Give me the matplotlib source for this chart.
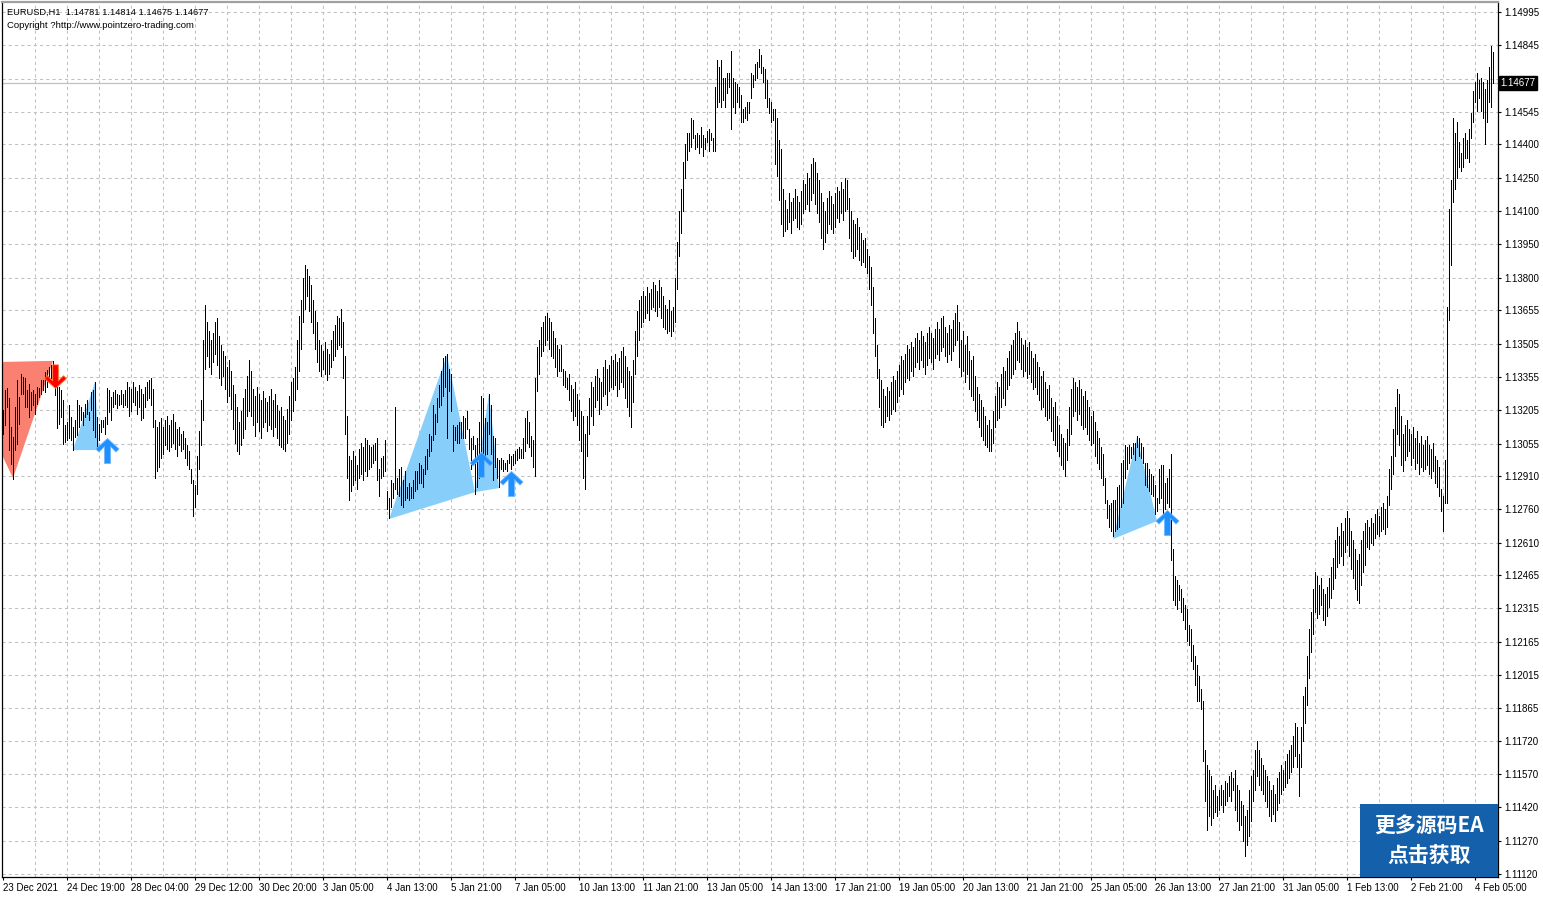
import matplotlib
matplotlib.use("Agg")
import matplotlib.pyplot as plt
import matplotlib.transforms as mtransforms
from matplotlib.collections import LineCollection
from matplotlib.patches import Polygon, Rectangle
from matplotlib.path import Path

symbol_line = "EURUSD,H1  1.14781 1.14814 1.14675 1.14677"
copyright_line = "Copyright ?http://www.pointzero-trading.com"
last_price = 1.14677

price_ticks = [1.14995, 1.14845, 1.14695, 1.14545, 1.14400, 1.14250, 1.14100,
               1.13950, 1.13800, 1.13655, 1.13505, 1.13355, 1.13205, 1.13055,
               1.12910, 1.12760, 1.12610, 1.12465, 1.12315, 1.12165, 1.12015,
               1.11865, 1.11720, 1.11570, 1.11420, 1.11270, 1.11120]
hidden_tick = 1.14695  # covered by the price box

time_labels = ["23 Dec 2021", "24 Dec 19:00", "28 Dec 04:00", "29 Dec 12:00",
               "30 Dec 20:00", "3 Jan 05:00", "4 Jan 13:00", "5 Jan 21:00",
               "7 Jan 05:00", "10 Jan 13:00", "11 Jan 21:00", "13 Jan 05:00",
               "14 Jan 13:00", "17 Jan 21:00", "19 Jan 05:00", "20 Jan 13:00",
               "21 Jan 21:00", "25 Jan 05:00", "26 Jan 13:00", "27 Jan 21:00",
               "31 Jan 05:00", "1 Feb 13:00", "2 Feb 21:00", "4 Feb 05:00"]
time_label_bars = [32 * k for k in range(len(time_labels))]

# H1 bar highs / lows, one line = 8 or 16 bars
bar_highs = [
    1.13205, 1.13295, 1.13303, 1.13258, 1.13130, 1.13085, 1.13220, 1.13340,
    1.13265, 1.13370, 1.13355, 1.13348, 1.13295, 1.13325, 1.13288, 1.13295,
    1.13280, 1.13310, 1.13303, 1.13340, 1.13340, 1.13378, 1.13385, 1.13400,
    1.13408, 1.13427, 1.13348, 1.13325, 1.13310, 1.13295, 1.13250, 1.13138,
    1.13153, 1.13228, 1.13175, 1.13130, 1.13160, 1.13250, 1.13228, 1.13220,
    1.13198, 1.13235, 1.13250, 1.13198, 1.13288, 1.13295, 1.13332, 1.13175,
    1.13145, 1.13160, 1.13160, 1.13175, 1.13303, 1.13295, 1.13265, 1.13288,
    1.13295, 1.13280, 1.13273, 1.13295, 1.13280, 1.13295,
    1.1333, 1.1331, 1.1330, 1.1333, 1.1331, 1.1329, 1.1332, 1.1330, 1.1328, 1.1331, 1.1333, 1.1334, 1.1335, 1.1330, 1.1316, 1.1313,
    1.1315, 1.1317, 1.1313, 1.1316, 1.1318, 1.1314, 1.1316, 1.1319, 1.1315, 1.1312, 1.1313, 1.1310, 1.1311, 1.1308, 1.1305, 1.1302,
    1.1294, 1.1289, 1.1287, 1.1300, 1.1311, 1.1325, 1.1352, 1.1368,
    1.1360, 1.1356, 1.1352, 1.1355, 1.1360, 1.1362, 1.1354, 1.1350, 1.1347, 1.1345, 1.1340, 1.1343, 1.1338, 1.1332, 1.1328, 1.1322,
    1.1315, 1.1320, 1.1326, 1.1330, 1.1336, 1.1343, 1.1338, 1.1330, 1.1327, 1.1331, 1.1328, 1.1325, 1.1329, 1.1326, 1.1324, 1.1327,
    1.1330, 1.1325, 1.1328, 1.1323, 1.1320, 1.1322, 1.1318, 1.1316, 1.1321, 1.1327, 1.1333, 1.1335, 1.1340, 1.1352, 1.1363, 1.1370,
    1.1380, 1.1386, 1.1384, 1.1381, 1.1377, 1.1370, 1.1365, 1.1360, 1.1352, 1.1350, 1.1347, 1.1351, 1.1348, 1.1346, 1.1352, 1.1356,
    1.1359, 1.1363, 1.1362, 1.1366, 1.1360, 1.1345, 1.1318, 1.1300, 1.1298, 1.1302, 1.1300, 1.1296, 1.1303, 1.1306, 1.1304, 1.1308,
    1.1307, 1.1305, 1.1304, 1.1305, 1.1306, 1.1308, 1.1294, 1.1299, 1.1300, 1.1307, 1.1284, 1.1281, 1.1289, 1.1288, 1.1322, 1.1290,
    1.1294, 1.1295, 1.1289, 1.1293, 1.1286, 1.1288, 1.1286, 1.1289, 1.1293, 1.1293, 1.1297, 1.1296, 1.1294, 1.1300, 1.1303, 1.1310,
    1.1309, 1.1323, 1.1319, 1.1326, 1.1332, 1.1338, 1.1344, 1.1345, 1.1346, 1.1339, 1.1337, 1.1314, 1.1313, 1.1314, 1.1315, 1.1315,
    1.1318, 1.1317, 1.1320, 1.1312, 1.1308, 1.1309, 1.1305, 1.1308, 1.1315, 1.1327, 1.1326, 1.1317, 1.1315, 1.1328, 1.1323, 1.1309,
    1.1308, 1.1299, 1.1298, 1.1299, 1.1298, 1.1297, 1.1298, 1.1301, 1.1300, 1.1301, 1.1302, 1.1303, 1.1304, 1.1303, 1.1308, 1.1317,
    1.1320, 1.1315, 1.1309, 1.1307, 1.1335, 1.1349, 1.1352, 1.1358, 1.1360, 1.1363, 1.1364, 1.1362, 1.1360, 1.1356, 1.1353, 1.1350,
    1.1348, 1.1350, 1.1339, 1.1338, 1.1335, 1.1337, 1.1332, 1.1330, 1.1333, 1.1328, 1.1325, 1.1320, 1.1318, 1.1310, 1.1318, 1.1326,
    1.1333, 1.1331, 1.1336, 1.1339, 1.1335, 1.1333, 1.1340, 1.1343, 1.1339, 1.1341, 1.1345, 1.1343, 1.1346, 1.1342, 1.1344, 1.1347,
    1.1349, 1.1345, 1.1340, 1.1338, 1.1336, 1.1343, 1.1356, 1.1365, 1.1370, 1.1372, 1.1374, 1.1372, 1.1376, 1.1373, 1.1375, 1.1378,
    1.1377, 1.1374, 1.1379, 1.1376, 1.1372, 1.1368, 1.1366, 1.1370, 1.1365, 1.1367, 1.1380, 1.1396, 1.1410, 1.1420, 1.1432, 1.1440,
    1.1445, 1.1445, 1.1452, 1.1451, 1.1444, 1.1445, 1.1444, 1.1448, 1.1444, 1.1443, 1.1446, 1.1447, 1.1445, 1.1443, 1.1466, 1.1478,
    1.1475, 1.1478, 1.1470, 1.1470, 1.1472, 1.1472, 1.1482, 1.1470, 1.1468, 1.1467, 1.1466, 1.1462, 1.1456, 1.1457, 1.1459, 1.1459,
    1.1472, 1.1471, 1.1476, 1.1477, 1.1483, 1.1480, 1.1475, 1.1474, 1.1469, 1.1461, 1.1459, 1.1456, 1.1456, 1.1452, 1.1442, 1.1438,
    1.1420, 1.1415, 1.1411, 1.1418, 1.1414, 1.1416, 1.1420, 1.1417, 1.1414, 1.1419, 1.1424, 1.1422, 1.1427, 1.1425, 1.1431, 1.1434,
    1.1432, 1.1427, 1.1424, 1.1418, 1.1414, 1.1410, 1.1416, 1.1419, 1.1417, 1.1413, 1.1418, 1.1421, 1.1419, 1.1423, 1.1420, 1.1425,
    1.1424, 1.1416, 1.1410, 1.1406, 1.1404, 1.1407, 1.1403, 1.1400, 1.1397, 1.1398, 1.1393, 1.1390, 1.1385, 1.1376, 1.1362, 1.1350,
    1.1339, 1.1334, 1.1330, 1.1327, 1.1331, 1.1329, 1.1333, 1.1336, 1.1334, 1.1338, 1.1341, 1.1345, 1.1343, 1.1346, 1.1350, 1.1348,
    1.1351, 1.1349, 1.1353, 1.1355, 1.1352, 1.1356, 1.1354, 1.1351, 1.1355, 1.1358, 1.1355, 1.1353, 1.1357, 1.1360, 1.1357, 1.1362,
    1.1363, 1.1358, 1.1355, 1.1359, 1.1357, 1.1361, 1.1364, 1.1368, 1.1360, 1.1352, 1.1356, 1.1350, 1.1354, 1.1347, 1.1343, 1.1345,
    1.1336, 1.1331, 1.1328, 1.1325, 1.1322, 1.1318, 1.1314, 1.1316, 1.1312, 1.1320, 1.1327, 1.1333, 1.1331, 1.1337, 1.1340, 1.1338,
    1.1344, 1.1347, 1.1350, 1.1352, 1.1355, 1.1360, 1.1356, 1.1353, 1.1350, 1.1352, 1.1349, 1.1351, 1.1347, 1.1344, 1.1346, 1.1342,
    1.1340, 1.1336, 1.1338, 1.1333, 1.1330, 1.1332, 1.1326, 1.1322, 1.1324, 1.1318, 1.1314, 1.1310, 1.1308, 1.1306, 1.1312, 1.1322,
    1.1330, 1.1335, 1.1333, 1.1331, 1.1334, 1.1330, 1.1327, 1.1329, 1.1325, 1.1322, 1.1318, 1.1320, 1.1315, 1.1311, 1.1308, 1.1304,
    1.1301, 1.1290, 1.1280, 1.1278, 1.1279, 1.1280, 1.1280, 1.1286, 1.1287, 1.1297, 1.1298, 1.1305, 1.1304, 1.1305, 1.1304, 1.1306,
    1.1306, 1.1309, 1.1308, 1.1306, 1.1304, 1.1297, 1.1297, 1.1294, 1.1292, 1.1291, 1.1287, 1.1281, 1.1294, 1.1296, 1.1296, 1.1288,
    1.1290, 1.1294, 1.1301, 1.1258, 1.1246, 1.1244, 1.1242, 1.1240, 1.1236, 1.1233, 1.1231, 1.1224, 1.1222, 1.1215, 1.1210, 1.1206,
    1.1201, 1.1195, 1.1190, 1.1168, 1.1161, 1.1159, 1.1156, 1.1150, 1.1152, 1.1147, 1.1150, 1.1152, 1.1150, 1.1154, 1.1153, 1.1156,
    1.1158, 1.1155, 1.1159, 1.1152, 1.1150, 1.1145, 1.1143, 1.1138, 1.1141, 1.1150, 1.1156, 1.1159, 1.1168, 1.1172, 1.1168, 1.1164,
    1.1161, 1.1159, 1.1156, 1.1154, 1.1150, 1.1152, 1.1148, 1.1155, 1.1158, 1.1161, 1.1159, 1.1163, 1.1166, 1.1168, 1.1170, 1.1174,
    1.1180, 1.1178, 1.1166, 1.1178, 1.1192, 1.1196, 1.1210, 1.1222, 1.1230, 1.1240, 1.1248, 1.1246, 1.1242, 1.1245, 1.1240, 1.1238,
    1.1241, 1.1245, 1.1250, 1.1254, 1.1262, 1.1268, 1.1264, 1.1270, 1.1266, 1.1272, 1.1275, 1.1272, 1.1266, 1.1262, 1.1258, 1.1253,
    1.1256, 1.1262, 1.1266, 1.1270, 1.1271, 1.1268, 1.1272, 1.1270, 1.1274, 1.1276, 1.1273, 1.1277, 1.1279, 1.1276, 1.1282, 1.1294,
    1.1300, 1.1312, 1.1322, 1.1330, 1.1328, 1.1318, 1.1310, 1.1314, 1.1316, 1.1312, 1.1310, 1.1313, 1.1308, 1.1311, 1.1306, 1.1309,
    1.1305, 1.1307, 1.1309, 1.1305, 1.1303, 1.1306, 1.1300, 1.1298, 1.1295, 1.1285,
    1.1282, 1.1298, 1.1367, 1.1411, 1.1424, 1.1452, 1.1445, 1.1450, 1.1441, 1.1436, 1.1443, 1.1445, 1.1442,
    1.1447, 1.1454, 1.1464, 1.1468, 1.1472, 1.1469, 1.1470, 1.1468, 1.1465, 1.1469, 1.1475, 1.1484, 1.14814,
]
bar_lows = [
    1.13100, 1.13138, 1.13220, 1.13025, 1.12965, 1.12898, 1.13025, 1.13055,
    1.13145, 1.13280, 1.13280, 1.13220, 1.13220, 1.13175, 1.13205, 1.13228,
    1.13190, 1.13235, 1.13265, 1.13280, 1.13295, 1.13288, 1.13310, 1.13340,
    1.13348, 1.13325, 1.13273, 1.13123, 1.13145, 1.13175, 1.13055, 1.13063,
    1.13070, 1.13078, 1.13070, 1.13025, 1.13085, 1.13093, 1.13130, 1.13160,
    1.13138, 1.13175, 1.13190, 1.13160, 1.13205, 1.13115, 1.13085, 1.13025,
    1.13070, 1.13108, 1.13130, 1.13100, 1.13145, 1.13198, 1.13160, 1.13220,
    1.13235, 1.13213, 1.13228, 1.13235, 1.13220, 1.13228,
    1.1322, 1.1318, 1.1320, 1.1324, 1.1323, 1.1319, 1.1322, 1.1316, 1.1317, 1.1322, 1.1325, 1.1326, 1.1323, 1.1313, 1.1290, 1.1293,
    1.1295, 1.1299, 1.1301, 1.1305, 1.1303, 1.1302, 1.1304, 1.1306, 1.1303, 1.1300, 1.1305, 1.1302, 1.1303, 1.1299, 1.1296, 1.1294,
    1.1288, 1.1273, 1.1277, 1.1283, 1.1294, 1.1305, 1.1316, 1.1339,
    1.1345, 1.1340, 1.1337, 1.1342, 1.1346, 1.1341, 1.1335, 1.1332, 1.1336, 1.1330, 1.1324, 1.1327, 1.1321, 1.1312, 1.1306, 1.1302,
    1.1301, 1.1305, 1.1308, 1.1312, 1.1318, 1.1320, 1.1318, 1.1314, 1.1309, 1.1315, 1.1311, 1.1308, 1.1313, 1.1315, 1.1311, 1.1314,
    1.1312, 1.1309, 1.1313, 1.1308, 1.1305, 1.1304, 1.1303, 1.1302, 1.1306, 1.1310, 1.1316, 1.1320, 1.1325, 1.1330, 1.1338, 1.1348,
    1.1360, 1.1366, 1.1372, 1.1365, 1.1360, 1.1355, 1.1348, 1.1342, 1.1338, 1.1336, 1.1339, 1.1337, 1.1334, 1.1337, 1.1340, 1.1343,
    1.1345, 1.1348, 1.1350, 1.1349, 1.1335, 1.1310, 1.1290, 1.1280, 1.1284, 1.1287, 1.1289, 1.1285, 1.1290, 1.1292, 1.1289, 1.1293,
    1.1291, 1.1294, 1.1295, 1.1297, 1.1298, 1.1289, 1.1282, 1.1290, 1.1291, 1.1293, 1.1276, 1.1272, 1.1277, 1.1281, 1.1285, 1.1283,
    1.1282, 1.1278, 1.1277, 1.1280, 1.1281, 1.1280, 1.1281, 1.1281, 1.1284, 1.1285, 1.1288, 1.1288, 1.1286, 1.1292, 1.1294, 1.1300,
    1.1302, 1.1307, 1.1310, 1.1315, 1.1322, 1.1323, 1.1327, 1.1331, 1.1308, 1.1329, 1.1320, 1.1302, 1.1307, 1.1306, 1.1306, 1.1308,
    1.1308, 1.1308, 1.1312, 1.1303, 1.1294, 1.1303, 1.1283, 1.1286, 1.1290, 1.1291, 1.1301, 1.1298, 1.1301, 1.1310, 1.1301, 1.1289,
    1.1295, 1.1290, 1.1286, 1.1294, 1.1293, 1.1294, 1.1293, 1.1297, 1.1294, 1.1296, 1.1297, 1.1298, 1.1299, 1.1299, 1.1299, 1.1302,
    1.1306, 1.1304, 1.1300, 1.1295, 1.1291, 1.1329, 1.1337, 1.1345, 1.1347, 1.1350, 1.1352, 1.1348, 1.1345, 1.1344, 1.1340, 1.1336,
    1.1338, 1.1338, 1.1332, 1.1331, 1.1330, 1.1325, 1.1320, 1.1316, 1.1318, 1.1314, 1.1307, 1.1302, 1.1290, 1.1285, 1.1300, 1.1310,
    1.1318, 1.1314, 1.1322, 1.1325, 1.1319, 1.1321, 1.1327, 1.1328, 1.1323, 1.1329, 1.1331, 1.1330, 1.1332, 1.1327, 1.1330, 1.1333,
    1.1331, 1.1326, 1.1322, 1.1318, 1.1313, 1.1324, 1.1337, 1.1345, 1.1352, 1.1358, 1.1360, 1.1362, 1.1364, 1.1361, 1.1366, 1.1367,
    1.1365, 1.1363, 1.1367, 1.1362, 1.1358, 1.1357, 1.1355, 1.1356, 1.1354, 1.1356, 1.1360, 1.1375, 1.1390, 1.1400, 1.1410, 1.1425,
    1.1433, 1.1437, 1.1439, 1.1443, 1.1438, 1.1439, 1.1436, 1.1439, 1.1435, 1.1438, 1.1441, 1.1437, 1.1442, 1.1437, 1.1437, 1.1457,
    1.1459, 1.1457, 1.1460, 1.1457, 1.1463, 1.1466, 1.1447, 1.1457, 1.1454, 1.1459, 1.1457, 1.1450, 1.1450, 1.1452, 1.1451, 1.1454,
    1.1461, 1.1466, 1.1469, 1.1470, 1.1475, 1.1472, 1.1468, 1.1461, 1.1457, 1.1454, 1.1450, 1.1451, 1.1431, 1.1426, 1.1415, 1.1404,
    1.1399, 1.1401, 1.1402, 1.1405, 1.1400, 1.1406, 1.1407, 1.1403, 1.1402, 1.1404, 1.1409, 1.1411, 1.1413, 1.1410, 1.1415, 1.1418,
    1.1413, 1.1409, 1.1405, 1.1398, 1.1393, 1.1396, 1.1400, 1.1404, 1.1402, 1.1400, 1.1403, 1.1407, 1.1405, 1.1409, 1.1406, 1.1410,
    1.1411, 1.1398, 1.1392, 1.1389, 1.1390, 1.1393, 1.1388, 1.1386, 1.1387, 1.1385, 1.1382, 1.1375, 1.1368, 1.1355, 1.1345, 1.1335,
    1.1322, 1.1314, 1.1313, 1.1315, 1.1318, 1.1316, 1.1319, 1.1321, 1.1320, 1.1324, 1.1327, 1.1330, 1.1328, 1.1333, 1.1335, 1.1334,
    1.1338, 1.1336, 1.1340, 1.1342, 1.1339, 1.1343, 1.1340, 1.1337, 1.1341, 1.1344, 1.1342, 1.1339, 1.1344, 1.1346, 1.1343, 1.1347,
    1.1349, 1.1345, 1.1342, 1.1346, 1.1343, 1.1347, 1.1350, 1.1352, 1.1340, 1.1336, 1.1338, 1.1333, 1.1337, 1.1330, 1.1327, 1.1325,
    1.1320, 1.1316, 1.1313, 1.1309, 1.1307, 1.1305, 1.1304, 1.1302, 1.1302, 1.1306, 1.1313, 1.1316, 1.1317, 1.1322, 1.1326, 1.1323,
    1.1330, 1.1332, 1.1335, 1.1337, 1.1339, 1.1343, 1.1342, 1.1339, 1.1336, 1.1338, 1.1335, 1.1337, 1.1333, 1.1330, 1.1331, 1.1328,
    1.1325, 1.1321, 1.1322, 1.1318, 1.1316, 1.1317, 1.1311, 1.1307, 1.1305, 1.1302, 1.1300, 1.1296, 1.1294, 1.1291, 1.1298, 1.1305,
    1.1310, 1.1318, 1.1320, 1.1316, 1.1319, 1.1314, 1.1312, 1.1313, 1.1310, 1.1307, 1.1305, 1.1306, 1.1300, 1.1297, 1.1294, 1.1290,
    1.1287, 1.1279, 1.1272, 1.1268, 1.1266, 1.1264, 1.1266, 1.1267, 1.1268, 1.1277, 1.1279, 1.1290, 1.1294, 1.1297, 1.1299, 1.1301,
    1.1298, 1.1304, 1.1300, 1.1299, 1.1297, 1.1287, 1.1286, 1.1284, 1.1283, 1.1282, 1.1274, 1.1275, 1.1279, 1.1281, 1.1273, 1.1276,
    1.1279, 1.1277, 1.1253, 1.1235, 1.1233, 1.1231, 1.1235, 1.1230, 1.1226, 1.1222, 1.1217, 1.1215, 1.1208, 1.1204, 1.1197, 1.1190,
    1.1190, 1.1186, 1.1163, 1.1145, 1.1132, 1.1138, 1.1134, 1.1137, 1.1140, 1.1138, 1.1141, 1.1143, 1.1140, 1.1143, 1.1145, 1.1147,
    1.1145, 1.1150, 1.1141, 1.1136, 1.1132, 1.1134, 1.1127, 1.1120, 1.1125, 1.1129, 1.1136, 1.1145, 1.1150, 1.1156, 1.1152, 1.1150,
    1.1148, 1.1145, 1.1142, 1.1138, 1.1136, 1.1139, 1.1136, 1.1141, 1.1144, 1.1148, 1.1150, 1.1151, 1.1153, 1.1155, 1.1158, 1.1160,
    1.1165, 1.1160, 1.1147, 1.1160, 1.1172, 1.1180, 1.1188, 1.1200, 1.1212, 1.1220, 1.1230, 1.1227, 1.1229, 1.1233, 1.1226, 1.1224,
    1.1228, 1.1232, 1.1236, 1.1240, 1.1245, 1.1250, 1.1252, 1.1255, 1.1251, 1.1257, 1.1260, 1.1255, 1.1249, 1.1245, 1.1240, 1.1235,
    1.1234, 1.1242, 1.1248, 1.1251, 1.1259, 1.1258, 1.1261, 1.1260, 1.1263, 1.1265, 1.1264, 1.1266, 1.1267, 1.1265, 1.1268, 1.1278,
    1.1285, 1.1292, 1.1300, 1.1310, 1.1305, 1.1296, 1.1293, 1.1298, 1.1300, 1.1302, 1.1296, 1.1299, 1.1294, 1.1297, 1.1292, 1.1295,
    1.1293, 1.1294, 1.1296, 1.1292, 1.1290, 1.1293, 1.1288, 1.1286, 1.1282, 1.1275,
    1.1266, 1.1279, 1.1279, 1.1361, 1.1386, 1.1414, 1.1420, 1.1425, 1.1430, 1.1428, 1.1430, 1.1434, 1.1434,
    1.1432, 1.1443, 1.1450, 1.1459, 1.1455, 1.1461, 1.1455, 1.1452, 1.1440, 1.1450, 1.1459, 1.1457, 1.14675,
]

# pattern zones (bar index, price)
red_zone_bars = [-0.5, 25, 5, -0.5]
red_zone_prices = [1.13422, 1.13427, 1.12900, 1.13004]
blue_zones_bars = [[35, 46, 48],
                   [193, 222, 236], [236, 243, 248],
                   [555, 567, 577]]
blue_zones_prices = [[1.13026, 1.13332, 1.13026],
                     [1.12716, 1.13453, 1.12837], [1.12837, 1.13282, 1.12855],
                     [1.12626, 1.13084, 1.12707]]
buy_arrow_bars = [52, 239, 254, 582]
buy_arrow_prices = [1.13080, 1.13017, 1.12932, 1.12756]
sell_arrow_bars = [26]
sell_arrow_prices = [1.13305]

fig = plt.figure(figsize=(15.43, 8.97), dpi=100)
ax = fig.add_axes([2 / 1543, 20 / 897, 1496 / 1543, 875 / 897])
ax.set_xlim(-0.5, 747.5)
ax.set_ylim(1.11107, 1.15040)

grid_kw = dict(color="#c0c0c0", lw=0.75, ls=(0, (3, 3)), zorder=0)
for p in price_ticks:
    ax.axhline(p, **grid_kw)
for b in range(16, 748, 16):
    ax.axvline(b, **grid_kw)
ax.axhline(last_price, color="#c0c0c0", lw=0.9, zorder=0.5)

ax.add_patch(Polygon(list(zip(red_zone_bars, red_zone_prices)), closed=True,
                     fc="#fa8072", ec="none", zorder=1))
for zb, zp in zip(blue_zones_bars, blue_zones_prices):
    ax.add_patch(Polygon(list(zip(zb, zp)), closed=True,
                         fc="#87cefa", ec="none", zorder=1))

segs = [[(i, lo), (i, hi)] for i, (hi, lo) in enumerate(zip(bar_highs, bar_lows))]
ax.add_collection(LineCollection(segs, colors="black", linewidths=0.55,
                                 antialiaseds=False, zorder=2))

# thick wingdings-like arrows, tip at origin
up_verts = [(0, 0), (0.46, -0.42), (0.34, -0.54), (0.12, -0.32), (0.12, -1.0),
            (-0.12, -1.0), (-0.12, -0.32), (-0.34, -0.54), (-0.46, -0.42), (0, 0)]
up_arrow = Path(up_verts, closed=True)
down_arrow = Path([(x, -y) for x, y in up_verts], closed=True)
ax.plot(buy_arrow_bars, buy_arrow_prices, ls="none", marker=up_arrow,
        ms=36, mfc="#1e90ff", mec="#6fb6ff", mew=0.6, zorder=3)
ax.plot(sell_arrow_bars, sell_arrow_prices, ls="none", marker=down_arrow,
        ms=34, mfc="#ff0000", mec="#ff7030", mew=0.6, zorder=3)

for side in ["left", "bottom", "right"]:
    ax.spines[side].set_color("black")
    ax.spines[side].set_linewidth(0.9)
ax.spines["top"].set_color("#a0a0a0")
ax.spines["top"].set_linewidth(1.6)

ax.yaxis.tick_right()
ax.set_yticks(price_ticks)
ax.set_yticklabels(["" if p == hidden_tick else f"{p:.5f}" for p in price_ticks])
ax.set_xticks(time_label_bars)
ax.set_xticklabels(time_labels, ha="left")
ax.tick_params(axis="both", length=2.5, width=0.8, color="black",
               labelsize=7, pad=2)
for lab in ax.get_xticklabels() + ax.get_yticklabels():
    lab.set_fontfamily("Liberation Sans")

trans = mtransforms.blended_transform_factory(ax.transAxes, ax.transData)
ax.text(1.0017, last_price, "1.14677", transform=trans, fontsize=7,
        family="Liberation Sans", color="white", va="center", ha="left",
        bbox=dict(boxstyle="square,pad=0.18", fc="black", ec="black"),
        zorder=6, clip_on=False)

fig.text(7 / 1543, 1 - 12 / 897, symbol_line, fontsize=6.7,
         family="Liberation Sans", va="center")
fig.text(7 / 1543, 1 - 25 / 897, copyright_line, fontsize=6.8,
         family="Liberation Sans", va="center")

fig.patches.append(Rectangle((1360 / 1543, 20 / 897), 138 / 1543, 73 / 897,
                             transform=fig.transFigure, fc="#1560aa",
                             ec="none", zorder=5))
cjk = ["Noto Sans CJK SC", "DejaVu Sans"]
fig.text(1429 / 1543, 1 - 826 / 897, "更多源码EA", fontsize=15,
         weight="bold", family=cjk, color="white", ha="center", va="center",
         zorder=6)
fig.text(1429 / 1543, 1 - 855 / 897, "点击获取", fontsize=15,
         weight="bold", family=cjk, color="white", ha="center", va="center",
         zorder=6)

fig.savefig("out.png", dpi=100)
